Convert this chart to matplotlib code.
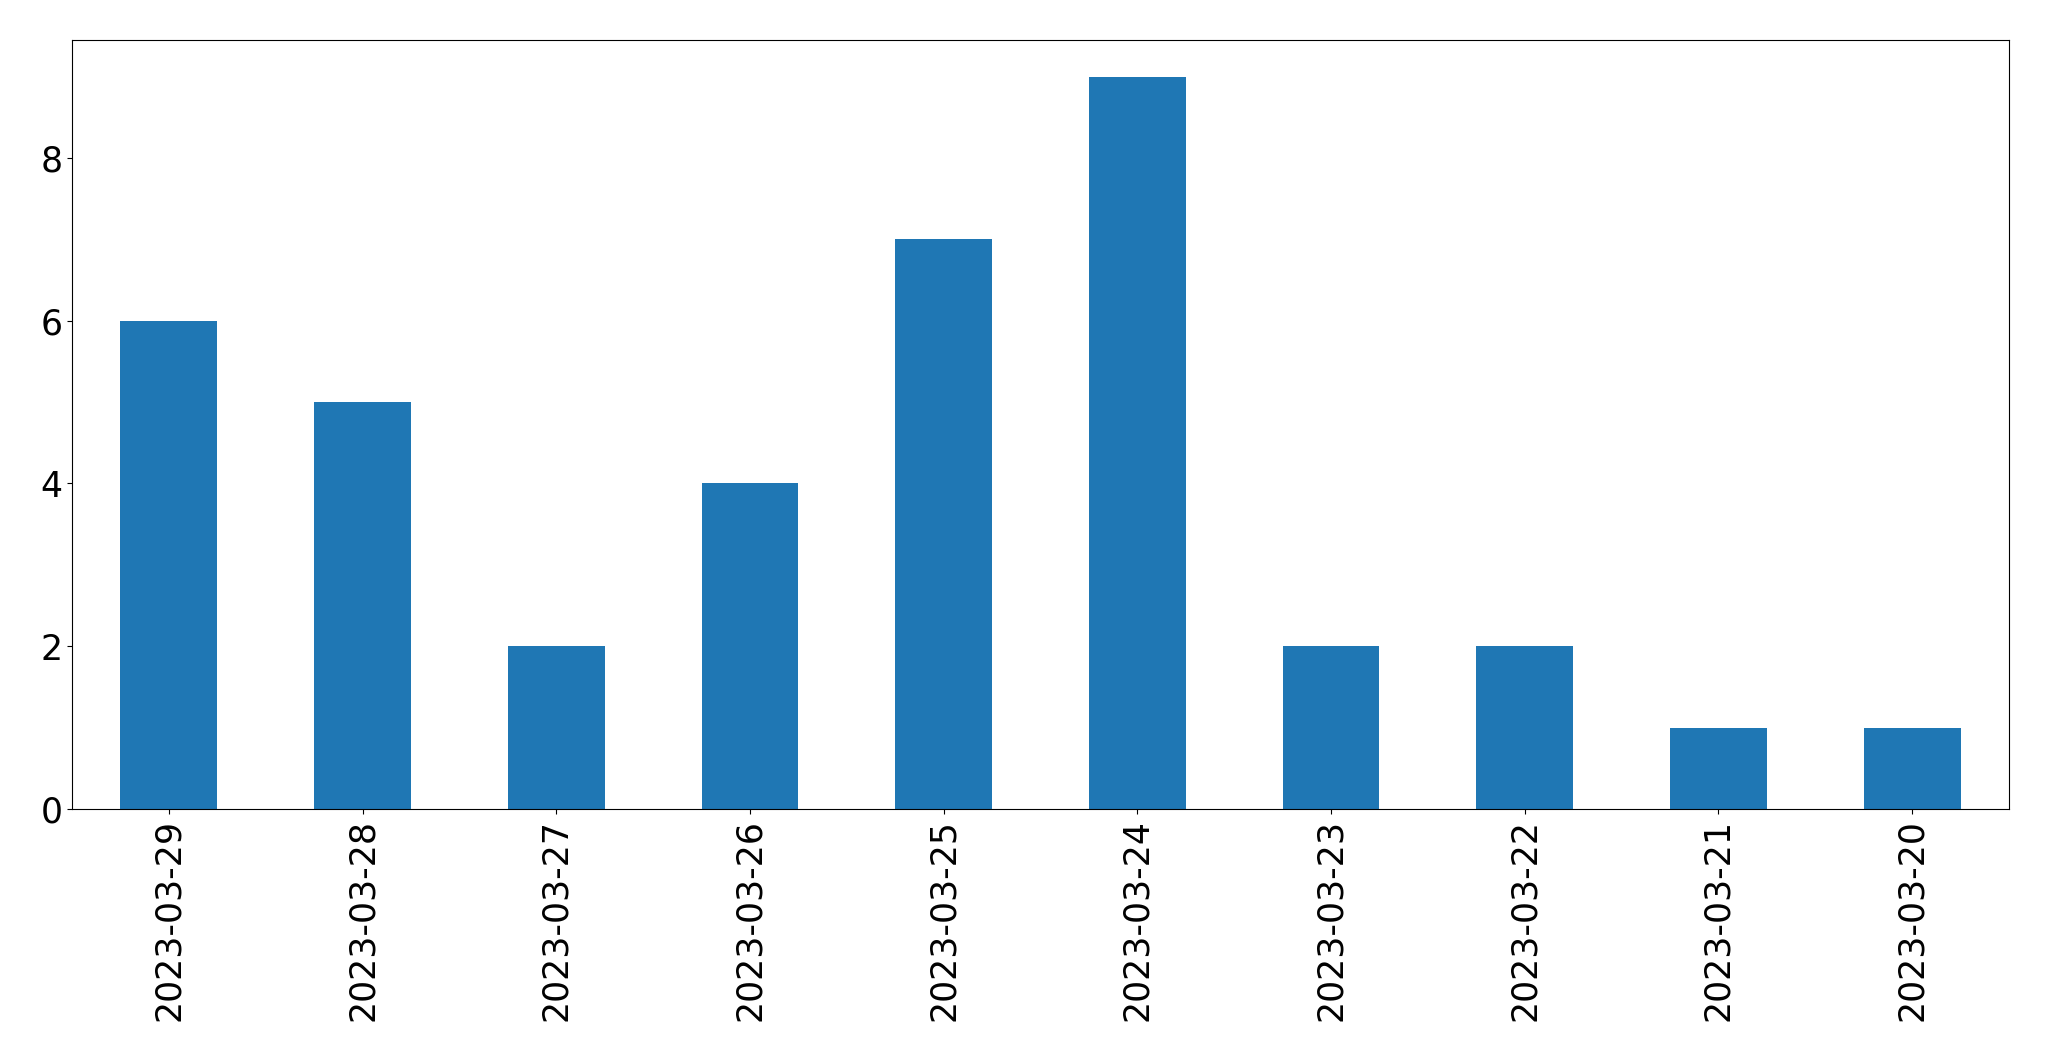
import matplotlib
matplotlib.use("Agg")
import matplotlib.pyplot as plt

dates = ["2023-03-29", "2023-03-28", "2023-03-27", "2023-03-26", "2023-03-25",
         "2023-03-24", "2023-03-23", "2023-03-22", "2023-03-21", "2023-03-20"]
counts = [6, 5, 2, 4, 7, 9, 2, 2, 1, 1]

W, H = 2049, 1061
fig = plt.figure(figsize=(W / 100, H / 100), dpi=100)
ax = fig.add_axes([72 / W, 1 - 809 / H, (2009 - 72) / W, (809 - 40) / H])
x = list(range(len(dates)))
ax.bar(x, counts, width=0.5, color="#1f77b4")
ax.set_xlim(-0.5, len(dates) - 0.5)
ax.set_ylim(0, max(counts) * 1.05)
ax.set_xticks(x)
ax.set_xticklabels(dates, rotation=90)
ax.set_yticks([0, 2, 4, 6, 8])
ax.tick_params(labelsize=25)
fig.savefig("out.png", dpi=100)
